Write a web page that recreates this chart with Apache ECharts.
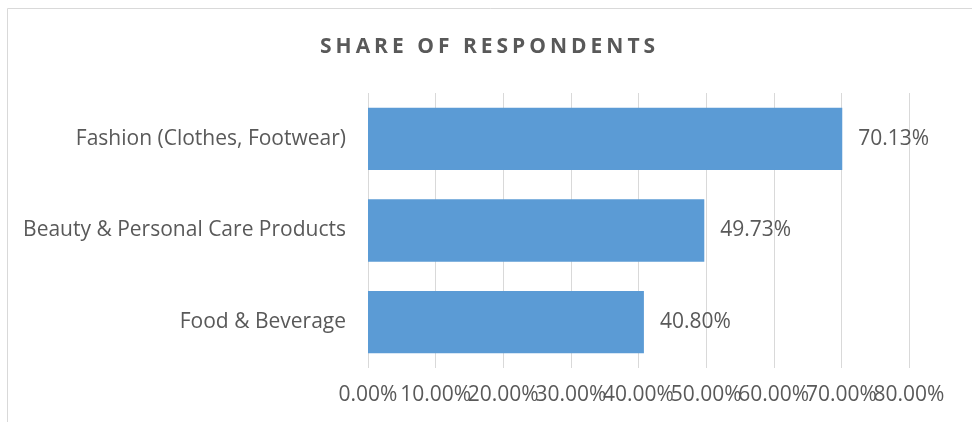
<!DOCTYPE html>
<html><head><meta charset="utf-8">
<script src="https://cdn.jsdelivr.net/npm/echarts@6/dist/echarts.min.js"></script>
<style>html,body{margin:0;padding:0;background:#fff}#c{width:972px;height:422px}</style>
</head><body><div id="c"></div>
<script>
var titleText = 'SHARE OF RESPONDENTS';
var categories = ['Fashion (Clothes, Footwear)', 'Beauty & Personal Care Products', 'Food & Beverage'];
var values = [70.13, 49.73, 40.80];
var tickMax = 80;
var tickStep = 10;

// letter-spaced title (canvas letterSpacing)
(function(){
  var orig = CanvasRenderingContext2D.prototype.fillText;
  CanvasRenderingContext2D.prototype.fillText = function(t, x, y, w){
    if (t === titleText) {
      var prev = this.letterSpacing;
      this.letterSpacing = '4px';
      var r = orig.call(this, t, x, y, w);
      this.letterSpacing = prev;
      return r;
    }
    return orig.apply(this, arguments);
  };
})();

var font = '"Open Sans", "Liberation Sans", sans-serif';
function pct(v){ return v.toFixed(2) + '%'; }
var labelBase = {color: '#595959', fontFamily: font, fontSize: 21, margin: 17,
  hideOverlap: false, showMinLabel: true, showMaxLabel: true};

var chart = echarts.init(document.getElementById('c'), null, {renderer: 'canvas'});
chart.setOption({
  animation: false,
  title: {
    text: titleText, left: 315, top: 32,
    textStyle: {fontFamily: font, fontSize: 21, fontWeight: 'bold', color: '#595959'}
  },
  graphic: [{
    type: 'rect', silent: true,
    shape: {x: 7.5, y: 8.5, width: 1000, height: 1000},
    style: {fill: 'none', stroke: '#d9d9d9', lineWidth: 1}
  }],
  grid: {left: 368, right: 63, top: 93, bottom: 54, containLabel: false},
  xAxis: [{
    type: 'value', min: 0, max: tickMax, interval: tickStep, position: 'bottom',
    axisLine: {show: false}, axisTick: {show: false},
    splitLine: {lineStyle: {color: '#d9d9d9', width: 1}},
    axisLabel: Object.assign({}, labelBase, {
      formatter: function(v){ return v >= tickMax ? '' : pct(v); }
    })
  }, {
    type: 'value', min: 0, max: tickMax, interval: tickStep, position: 'bottom', offset: 0,
    axisLine: {show: false}, axisTick: {show: false}, splitLine: {show: false},
    axisLabel: Object.assign({}, labelBase, {
      formatter: function(v){ return v >= tickMax ? pct(v) : ''; }
    })
  }],
  yAxis: {
    type: 'category', data: categories, inverse: true,
    axisLine: {show: false}, axisTick: {show: false},
    axisLabel: {color: '#595959', fontFamily: font, fontSize: 21, margin: 22}
  },
  series: [{
    type: 'bar', data: values, barCategoryGap: '32%', xAxisIndex: 0,
    itemStyle: {color: '#5b9bd5'},
    label: {
      show: true, position: 'right', distance: 16,
      formatter: function(p){ return pct(p.value); },
      color: '#595959', fontFamily: font, fontSize: 21
    }
  }]
});
</script></body></html>
